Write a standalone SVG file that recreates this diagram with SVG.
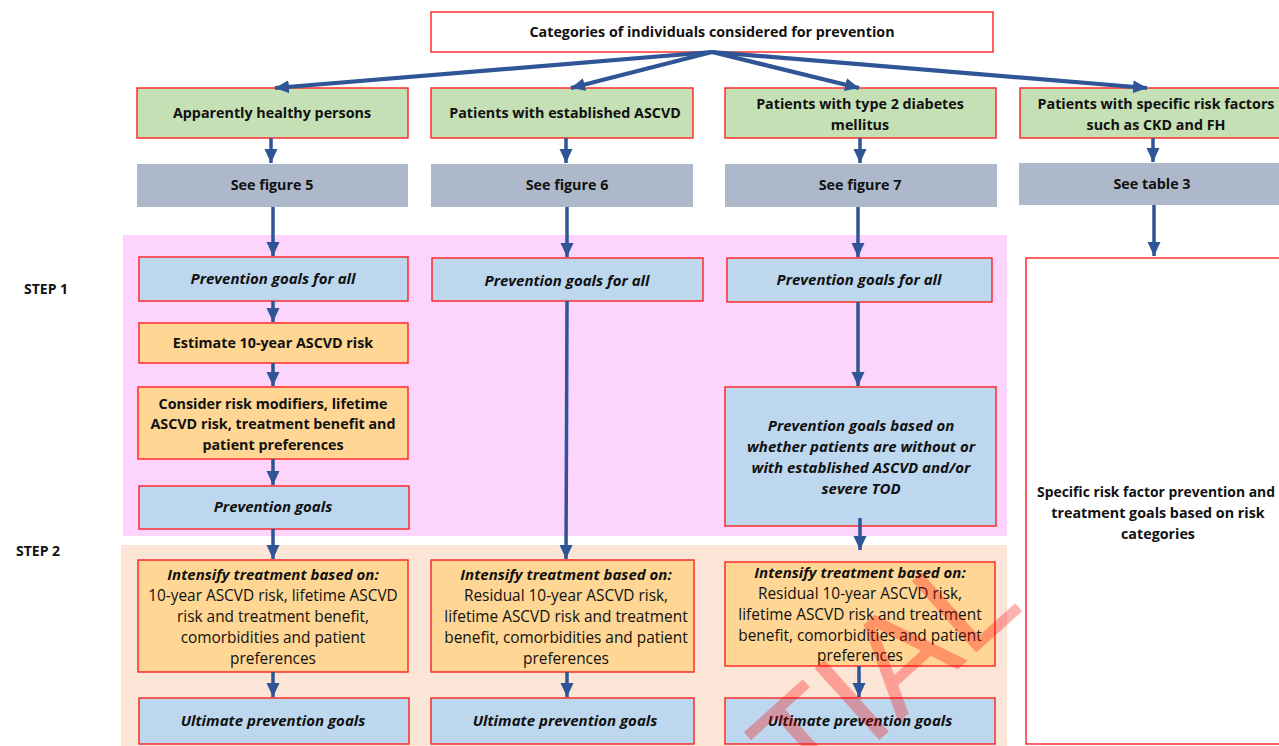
<svg xmlns="http://www.w3.org/2000/svg" width="1279" height="746" viewBox="0 0 1279 746">
<defs>
<marker id="ah" markerUnits="userSpaceOnUse" markerWidth="16" markerHeight="16" viewBox="0 0 16 16" refX="14" refY="8" orient="auto">
<path d="M0,1.5 L14,8 L0,14.5 Z" fill="#2f5597"/>
</marker>
<style>
.box{stroke:#ff2020;stroke-width:1.4}
.wh{fill:#ffffff}
.gr{fill:#c5e0b4}
.gy{fill:#adb9ca}
.bl{fill:#bdd7ee}
.or{fill:#ffd694}
text{font-family:"Open Sans",Lato,"Liberation Sans",sans-serif;fill:#111;text-anchor:middle}
.b{font-weight:bold;font-size:14.3px}
.bi{font-weight:bold;font-style:italic;font-size:15px}
.r{font-size:15.4px}
.st{font-weight:bold;font-size:14px;text-anchor:start}
.cn line{stroke:#2f5597;stroke-width:3.5;marker-end:url(#ah)}
.fan line{stroke-width:4.2}
.wm{font-family:"Liberation Sans",sans-serif;font-size:140px;fill:#ff0000;fill-opacity:0.3;text-anchor:start}
</style>
</defs>
<rect width="1279" height="746" fill="#ffffff"/>
<rect x="123" y="235" width="884" height="301" fill="#fcd4fc"/>
<rect x="121" y="545" width="886" height="201" fill="#fbe5d6"/>
<text class="st" x="24" y="294">STEP 1</text>
<text class="st" x="16" y="556">STEP 2</text>

<g id="top"><rect class="box wh" x="431" y="12" width="562" height="40"/><text class="b" x="712" y="37">Categories of individuals considered for prevention</text></g>

<g id="g1"><rect class="box gr" x="137" y="88" width="271" height="50"/><text class="b" x="272" y="118">Apparently healthy persons</text></g>
<g id="g2"><rect class="box gr" x="431" y="88" width="262" height="50"/><text class="b" x="565" y="118">Patients with established ASCVD</text></g>
<g id="g3"><rect class="box gr" x="725" y="88" width="271" height="50"/><text class="b" x="860" y="109">Patients with type 2 diabetes</text><text class="b" x="860" y="130">mellitus</text></g>
<g id="g4"><rect class="box gr" x="1020" y="88" width="275" height="50"/><text class="b" x="1156" y="109">Patients with specific risk factors</text><text class="b" x="1156" y="130">such as CKD and FH</text></g>

<g id="s1"><rect class="gy" x="137" y="164" width="271" height="43"/><text class="b" x="272" y="190">See figure 5</text></g>
<g id="s2"><rect class="gy" x="431" y="164" width="262" height="43"/><text class="b" x="567" y="190">See figure 6</text></g>
<g id="s3"><rect class="gy" x="725" y="164" width="272" height="43"/><text class="b" x="860" y="190">See figure 7</text></g>
<g id="s4"><rect class="gy" x="1019" y="163" width="262" height="42"/><text class="b" x="1152" y="189">See table 3</text></g>

<g id="c1a"><rect class="box bl" x="139" y="257" width="269" height="44"/><text class="bi" x="273" y="284">Prevention goals for all</text></g>
<g id="c1b"><rect class="box or" x="139" y="323" width="269" height="40"/><text class="b" x="273" y="348">Estimate 10-year ASCVD risk</text></g>
<g id="c1c"><rect class="box or" x="138" y="387" width="270" height="72"/><text class="b" x="273" y="409">Consider risk modifiers, lifetime</text><text class="b" x="273" y="429">ASCVD risk, treatment benefit and</text><text class="b" x="273" y="450">patient preferences</text></g>
<g id="c1d"><rect class="box bl" x="139" y="486" width="270" height="43"/><text class="bi" x="273" y="512">Prevention goals</text></g>
<g id="c1e"><rect class="box or" x="138" y="560" width="270" height="112"/><text class="bi" x="273" y="580">Intensify treatment based on:</text><text class="r" x="273" y="601">10-year ASCVD risk, lifetime ASCVD</text><text class="r" x="273" y="622">risk and treatment  benefit,</text><text class="r" x="273" y="643">comorbidities and patient</text><text class="r" x="273" y="664">preferences</text></g>
<g id="c1f"><rect class="box bl" x="139" y="698" width="270" height="46"/><text class="bi" x="273" y="726">Ultimate prevention goals</text></g>

<g id="c2a"><rect class="box bl" x="432" y="258" width="271" height="43"/><text class="bi" x="567" y="286">Prevention goals for all</text></g>
<g id="c2e"><rect class="box or" x="431" y="560" width="263" height="112"/><text class="bi" x="566" y="580">Intensify treatment based on:</text><text class="r" x="566" y="601">Residual 10-year ASCVD risk,</text><text class="r" x="566" y="622">lifetime ASCVD risk and treatment</text><text class="r" x="566" y="643">benefit, comorbidities and patient</text><text class="r" x="566" y="664">preferences</text></g>
<g id="c2f"><rect class="box bl" x="431" y="698" width="263" height="46"/><text class="bi" x="565" y="726">Ultimate prevention goals</text></g>

<g id="c3a"><rect class="box bl" x="727" y="258" width="265" height="44"/><text class="bi" x="859" y="285">Prevention goals for all</text></g>
<g id="c3b"><rect class="box bl" x="725" y="387" width="271" height="139"/><text class="bi" x="861" y="431">Prevention goals based on</text><text class="bi" x="861" y="452">whether patients are without or</text><text class="bi" x="861" y="473">with established ASCVD and/or</text><text class="bi" x="861" y="494">severe TOD</text></g>
<g id="c3e"><rect class="box or" x="725" y="562" width="270" height="104"/><text class="bi" x="860" y="578">Intensify treatment based on:</text><text class="r" x="860" y="599">Residual 10-year ASCVD risk,</text><text class="r" x="860" y="620">lifetime ASCVD risk and treatment</text><text class="r" x="860" y="641">benefit, comorbidities and patient</text><text class="r" x="860" y="661">preferences</text></g>
<g id="c3f"><rect class="box bl" x="725" y="698" width="270" height="46"/><text class="bi" x="860" y="726">Ultimate prevention goals</text></g>

<g id="c4"><rect class="box wh" x="1026" y="258" width="266" height="486"/><text class="b" x="1156" y="497" style="font-size:13.9px">Specific risk factor prevention and</text><text class="b" x="1158" y="518">treatment goals based on risk</text><text class="b" x="1158" y="539">categories</text></g>

<g id="connectors" class="cn">
<g class="fan">
<line x1="712" y1="52" x2="275" y2="88"/>
<line x1="712" y1="52" x2="571" y2="88"/>
<line x1="712" y1="52" x2="859" y2="88"/>
<line x1="712" y1="52" x2="1147" y2="88"/>
</g>
<line x1="271" y1="138" x2="271" y2="163"/>
<line x1="566" y1="138" x2="566" y2="163"/>
<line x1="860" y1="138" x2="860" y2="163"/>
<line x1="1153" y1="138" x2="1153" y2="162"/>
<line x1="273" y1="207" x2="273" y2="256"/>
<line x1="567" y1="207" x2="567" y2="257"/>
<line x1="858" y1="207" x2="858" y2="257"/>
<line x1="1154" y1="205" x2="1154" y2="256"/>
<line x1="273" y1="301" x2="273" y2="322"/>
<line x1="273" y1="363" x2="273" y2="386"/>
<line x1="273" y1="459" x2="273" y2="485"/>
<line x1="273" y1="529" x2="273" y2="559"/>
<line x1="273" y1="672" x2="273" y2="697"/>
<line x1="567" y1="301" x2="566" y2="559"/>
<line x1="567" y1="672" x2="567" y2="697"/>
<line x1="858" y1="302" x2="858" y2="386"/>
<line x1="860" y1="518" x2="860" y2="550"/>
<line x1="859" y1="666" x2="859" y2="697"/>
</g>
<text class="wm" x="806" y="806" transform="rotate(-42 806 806)">TIAL</text>
</svg>
